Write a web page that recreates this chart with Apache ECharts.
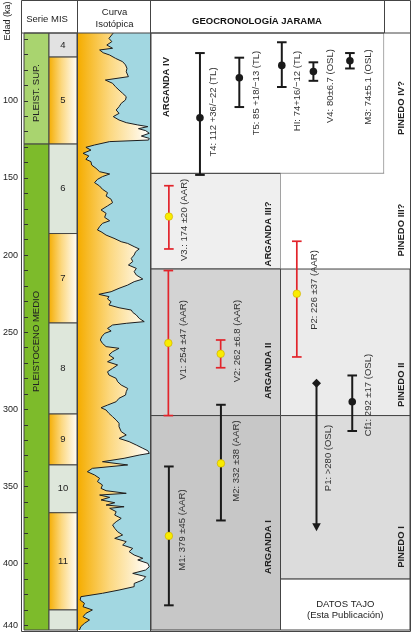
<!DOCTYPE html>
<html>
<head>
<meta charset="utf-8">
<script src="https://cdn.jsdelivr.net/npm/echarts@6/dist/echarts.min.js"></script>
<style>
html, body { margin: 0; padding: 0; background: #fff; }
#main { width: 411px; height: 632px; }
</style>
</head>
<body>
<div id="main"></div>
<script>
// ---- datos ----
var ageMin = 56, ageMax = 443;
var ageTicks = [60, 70, 80, 90, 100, 110, 120, 130, 140, 150, 160, 170, 180, 190, 200, 210, 220, 230, 240, 250,
    260, 270, 280, 290, 300, 310, 320, 330, 340, 350, 360, 370, 380, 390, 400, 410, 420, 430, 440];
var ageLabels = [100, 150, 200, 250, 300, 350, 400, 440];

// serie (epocas)
var epochNames = ['PLEIST. SUP.', 'PLEISTOCENO MEDIO'];
var epochFrom = [56, 128];
var epochTo = [128, 443];

// estadios isotopicos (MIS)
var misNames = ['4', '5', '6', '7', '8', '9', '10', '11', ''];
var misFrom = [56, 71.6, 128, 186, 244, 303, 336, 367, 430];
var misTo = [71.6, 128, 186, 244, 303, 336, 367, 430, 443];
var misWarm = [false, true, false, true, false, true, false, true, false];

// curva isotopica (edad ka / posicion relativa 0-100)
var isoAge = [56, 59.5, 61.6, 63.8, 65.9, 67.0, 68.8, 70.3, 72.4, 74.6, 76.7, 78.9, 81.1, 84.3, 86.5, 88.6, 90.8, 93.0, 95.1, 97.3,
    99.4, 101.6, 103.8, 105.9, 108.1, 110.2, 112.4, 114.1, 115.6, 116.7, 118.0, 119.3, 121.0, 122.8, 124.3, 125.4, 126.4, 128.6, 130.1, 131.9,
    134.0, 135.7, 137.9, 139.4, 141.6, 143.7, 145.9, 147.4, 149.1, 150.9, 153.0, 155.2, 157.3, 159.5, 161.7, 163.8, 166.0, 168.1, 170.7, 172.9,
    175.5, 177.7, 179.4, 181.5, 183.7,
    184.8, 187.0, 189.1, 191.3, 192.4, 194.5, 196.0, 197.8, 199.9, 202.1, 204.2, 206.4, 208.6, 210.7, 212.9, 215.5, 217.2, 219.4, 221.5, 223.7,
    225.4, 226.9, 228.4, 230.2, 232.3, 234.1, 235.6, 237.1, 238.8, 241.0, 243.1, 244.2, 245.3, 247.5, 249.2, 250.7, 252.9, 255.0, 257.2, 259.3,
    260.4, 262.6, 264.7, 266.9, 269.1, 271.2, 273.4, 275.6, 277.7, 279.9, 282.0, 284.2, 286.4, 288.5, 290.7, 292.8, 295.0, 297.2, 298.9, 300.4,
    302.6, 304.7, 306.9, 309.0,
    311.2, 314.4, 316.6, 318.8, 320.9, 323.1, 325.2, 326.8, 328.5, 329.6, 331.7, 333.9, 336.0, 338.2, 340.4, 342.5, 344.7, 346.8, 349.0, 351.2,
    352.7, 354.4, 355.5, 357.0, 358.7, 360.5, 362.0, 363.1, 364.1, 366.3, 368.5, 370.6, 372.8, 374.9, 377.1, 379.3, 381.4, 383.6, 385.7, 387.9,
    390.1, 392.2, 394.4, 396.5, 397.6, 399.8, 402.0, 404.1, 406.3, 408.4, 410.6, 412.8, 414.9, 417.1, 419.2, 421.4, 423.6, 425.7, 427.9, 430.0,
    432.2, 434.4, 436.5, 438.7, 440.8, 443];
var isoValue = [49, 43, 47, 40, 48, 30, 35, 44, 52, 62, 66, 68, 67, 70, 38, 48, 52, 57, 62, 67,
    66, 60, 57, 53, 57, 49, 57, 67, 83, 97, 84, 94, 99, 88, 99, 98, 44, 23, 11, 18,
    7, 15, 11, 18, 19, 25, 30, 44, 34, 27, 23, 30, 34, 41, 39, 46, 48, 41, 32, 39,
    37, 44, 34, 30, 27,
    32, 39, 50, 60, 69, 78, 85, 80, 78, 74, 76, 70, 81, 78, 81, 90, 78, 69, 57, 46,
    29, 43, 41, 46, 43, 57, 74, 76, 81, 85, 92, 67, 48, 41, 46, 37, 33, 31, 34, 39,
    57, 48, 43, 50, 41, 55, 48, 41, 43, 53, 55, 60, 69, 67, 66, 57, 53, 41, 32, 39,
    43, 48, 53, 57,
    57, 60, 67, 57, 71, 81, 90, 97, 99, 85, 64, 34, 69, 20, 13, 23, 30, 27, 34, 32,
    39, 67, 30, 44, 32, 51, 39, 64, 44, 53, 51, 60, 53, 48, 51, 55, 62, 51, 67, 62,
    76, 71, 78, 90, 83, 97, 99, 94, 76, 94, 90, 78, 78, 57, 34, 4, 3, 9, 7, 20,
    11, 7, 16, 9, 4, 2];

// unidades (terrazas)
var unitNames = ['ARGANDA IV', 'PINEDO IV?', 'ARGANDA III?', 'PINEDO III?', 'ARGANDA II', 'PINEDO II',
    'ARGANDA I', 'PINEDO I', 'DATOS TAJO\n(Esta Publicación)'];
var unitFrom = [56, 56, 147, 147, 209, 209, 304, 304, 410];
var unitTo = [147, 147, 209, 209, 304, 304, 443, 410, 443];

// dataciones
var datingNames = ['T4: 112 +36/−22 (TL)', 'T5: 85 +18/−13 (TL)', 'HI: 74+16/−12 (TL)', 'V4: 80±6.7 (OSL)',
    'M3: 74±5.1 (OSL)', 'V3.: 174 ±20 (AAR)', 'P2: 226 ±37 (AAR)', 'V1: 254 ±47 (AAR)', 'V2: 262 ±6.8 (AAR)',
    'P1: >280 (OSL)', 'Cf1: 292 ±17 (OSL)', 'M2: 332 ±38 (AAR)', 'M1: 379 ±45 (AAR)'];
var datingAge = [111, 85, 77, 81, 74, 175, 225, 257, 264, 283, 295, 335, 382];
var datingLow = [69, 72, 62, 75, 69, 155, 191, 210, 255, 283, 278, 297, 337];
var datingHigh = [148, 104, 91, 87, 79, 196, 266, 304, 273, 379, 314, 372, 427];
var datingMethod = ['TL', 'TL', 'TL', 'OSL', 'OSL', 'AAR', 'AAR', 'AAR', 'AAR', 'OSL', 'OSL', 'AAR', 'AAR'];

// ---- maquetacion / estilos ----
var epochColors = ['#a9d46f', '#7dbb2b'];
var epochLabelAge = [95, 256];
var unitLane = [[0, 90], [90, 100], [0, 50], [50, 100], [0, 50], [50, 100], [0, 50], [50, 100], [50, 100]];
var unitFill = ['#ffffff', '#ffffff', '#efefef', '#ffffff', '#d3d3d3', '#ebebeb', '#c7c7c7', '#dcdcdc', '#ffffff'];
var unitBorder = [true, false, true, false, true, true, true, true, true];
var unitLabelLane = [6, 96.5, 45.3, 96.5, 45.3, 96.5, 45.3, 96.5, 75];
var unitLabelAge = [91, 104.6, 186.3, 183.7, 275, 284, 389.2, 389.2, 430];
var datingLane = [18.9, 34.1, 50.5, 62.7, 76.8, 6.9, 56.3, 6.7, 26.9, 63.9, 77.7, 27.0, 6.9];
var datingLabelLane = [23.9, 40.5, 56.6, 69.1, 83.8, 12.9, 62.9, 12.4, 33.3, 68.3, 83.8, 32.8, 12.2];
var datingLabelAge = [107.2, 94.9, 93.6, 90.4, 91, 177.2, 222.6, 255, 255.7, 331.5, 290.7, 333.5, 378.2];
var datingRed = [false, false, false, false, false, true, true, true, true, false, false, false, false];

var FONT = '"Liberation Sans", Arial, sans-serif';
var INK = '#444';
var warmFill = {
    type: 'linear', x: 0, y: 0, x2: 1, y2: 0,
    colorStops: [{ offset: 0, color: '#f5ad00' }, { offset: 0.45, color: '#fcd880' }, { offset: 1, color: '#ffffff' }]
};

var myChart = echarts.init(document.getElementById('main'));

function rotText(x, y, text, size, bold) {
    return {
        type: 'text', x: x, y: y, rotation: Math.PI / 2,
        style: {
            text: text, fill: '#222', fontSize: size, fontFamily: FONT,
            fontWeight: bold ? 'bold' : 'normal', align: 'center', verticalAlign: 'middle'
        }
    };
}

function ageAxis(idx, showIt) {
    return {
        type: 'value', gridIndex: idx, min: ageMin, max: ageMax, inverse: true, z: 5,
        show: showIt, splitLine: { show: false }, axisLine: { show: false },
        axisTick: { show: showIt, inside: true, length: 4, customValues: ageTicks, lineStyle: { color: '#333' } },
        axisLabel: { show: showIt, customValues: ageLabels, margin: 6, fontSize: 9, color: '#222', fontFamily: FONT }
    };
}

var grids = [
    { left: 22, top: 33, width: 27, height: 597 },
    { left: 49, top: 33, width: 28, height: 597 },
    { left: 78, top: 33, width: 72, height: 597, show: true, backgroundColor: '#a2d7e1', borderWidth: 0 },
    { left: 151, top: 33, width: 259, height: 597 }
];

var option = {
    animation: false,
    backgroundColor: '#ffffff',
    grid: grids,
    xAxis: [
        { type: 'value', gridIndex: 0, min: 0, max: 1, show: false },
        { type: 'value', gridIndex: 1, min: 0, max: 1, show: false },
        { type: 'value', gridIndex: 2, min: 0, max: 100, show: false },
        { type: 'value', gridIndex: 3, min: 0, max: 100, show: false }
    ],
    yAxis: [ageAxis(0, true), ageAxis(1, false), ageAxis(2, false), ageAxis(3, false)],
    graphic: [
        // marco y cabecera
        { type: 'rect', shape: { x: 21.5, y: 0.5, width: 389, height: 631 }, style: { fill: null, stroke: INK, lineWidth: 1 }, z: 100 },
        { type: 'line', shape: { x1: 21.5, y1: 33, x2: 410.5, y2: 33 }, style: { stroke: INK, lineWidth: 1 }, z: 100 },
        { type: 'line', shape: { x1: 77.5, y1: 0, x2: 77.5, y2: 632 }, style: { stroke: INK, lineWidth: 1 }, z: 100 },
        { type: 'line', shape: { x1: 150.5, y1: 0, x2: 150.5, y2: 632 }, style: { stroke: INK, lineWidth: 1 }, z: 100 },
        { type: 'line', shape: { x1: 384.5, y1: 0, x2: 384.5, y2: 33 }, style: { stroke: INK, lineWidth: 1 }, z: 100 },
        { type: 'text', x: 8, y: 21, rotation: Math.PI / 2, style: { text: 'Edad (ka)', fill: '#222', fontSize: 9, fontFamily: FONT, align: 'center', verticalAlign: 'middle' } },
        { type: 'text', x: 47, y: 19.5, style: { text: 'Serie MIS', fill: '#222', fontSize: 9.5, fontFamily: FONT, align: 'center', verticalAlign: 'middle' } },
        { type: 'text', x: 114.5, y: 18.5, style: { text: 'Curva\nIsotópica', fill: '#222', fontSize: 9.5, lineHeight: 11.5, fontFamily: FONT, align: 'center', verticalAlign: 'middle' } },
        { type: 'text', x: 257, y: 21.5, style: { text: 'GEOCRONOLOGÍA JARAMA', fill: '#111', fontSize: 9.5, fontWeight: 'bold', fontFamily: FONT, align: 'center', verticalAlign: 'middle' } }
    ],
    series: [
        {
            // serie
            type: 'custom', xAxisIndex: 0, yAxisIndex: 0,
            data: epochNames.map(function(n, i) { return [0, 1, epochFrom[i], epochTo[i]]; }),
            encode: { x: [0, 1], y: [2, 3] },
            renderItem: function(params, api) {
                var i = params.dataIndex;
                var a = api.coord([api.value(0), api.value(2)]);
                var b = api.coord([api.value(1), api.value(3)]);
                return {
                    type: 'group', children: [
                        { type: 'rect', shape: { x: a[0], y: a[1], width: b[0] - a[0], height: b[1] - a[1] }, style: { fill: epochColors[i], stroke: INK, lineWidth: 1 } },
                        rotText((a[0] + b[0]) / 2, api.coord([0, epochLabelAge[i]])[1], epochNames[i], 9.5, false)
                    ]
                };
            }
        },
        {
            // MIS
            type: 'custom', xAxisIndex: 1, yAxisIndex: 1,
            data: misNames.map(function(n, i) { return [0, 1, misFrom[i], misTo[i]]; }),
            encode: { x: [0, 1], y: [2, 3] },
            renderItem: function(params, api) {
                var i = params.dataIndex;
                var a = api.coord([api.value(0), api.value(2)]);
                var b = api.coord([api.value(1), api.value(3)]);
                var fill = misWarm[i] ? warmFill : (i === 0 ? '#e2e2e2' : '#dee7db');
                return {
                    type: 'group', children: [
                        { type: 'rect', shape: { x: a[0], y: a[1], width: b[0] - a[0], height: b[1] - a[1] }, style: { fill: fill, stroke: INK, lineWidth: 1 } },
                        { type: 'text', x: (a[0] + b[0]) / 2, y: (a[1] + b[1]) / 2, style: { text: misNames[i], fill: '#222', fontSize: 9.5, fontFamily: FONT, align: 'center', verticalAlign: 'middle' } }
                    ]
                };
            }
        },
        {
            // curva isotopica
            type: 'custom', xAxisIndex: 2, yAxisIndex: 2,
            data: [[0, ageMin]],
            renderItem: function(params, api) {
                var pts = isoAge.map(function(a, i) { return api.coord([isoValue[i], a]); });
                var poly = [api.coord([0, isoAge[0]])].concat(pts).concat([api.coord([0, isoAge[isoAge.length - 1]])]);
                return {
                    type: 'group', children: [
                        { type: 'polygon', shape: { points: poly }, style: { fill: warmFill } },
                        { type: 'polyline', shape: { points: pts }, style: { stroke: '#1e1e1e', lineWidth: 1, fill: null } }
                    ]
                };
            }
        },
        {
            // unidades
            type: 'custom', xAxisIndex: 3, yAxisIndex: 3,
            data: unitNames.map(function(n, i) { return [unitLane[i][0], unitLane[i][1], unitFrom[i], unitTo[i]]; }),
            encode: { x: [0, 1], y: [2, 3] },
            renderItem: function(params, api) {
                var i = params.dataIndex;
                var a = api.coord([api.value(0), api.value(2)]);
                var b = api.coord([api.value(1), api.value(3)]);
                var p = api.coord([unitLabelLane[i], unitLabelAge[i]]);
                var label;
                if (i === unitNames.length - 1) {
                    label = { type: 'text', x: p[0], y: p[1], style: { text: unitNames[i], fill: '#222', fontSize: 9.5, lineHeight: 11.7, fontFamily: FONT, align: 'center', verticalAlign: 'middle' } };
                } else {
                    label = rotText(p[0], p[1], unitNames[i], 9.5, true);
                }
                return {
                    type: 'group', children: [
                        { type: 'rect', shape: { x: a[0], y: a[1], width: b[0] - a[0], height: b[1] - a[1] },
                          style: { fill: unitFill[i], stroke: unitBorder[i] ? INK : null, lineWidth: 1 } },
                        label
                    ]
                };
            }
        },
        {
            // dataciones
            type: 'custom', xAxisIndex: 3, yAxisIndex: 3, z: 4,
            data: datingNames.map(function(n, i) { return [datingLane[i], datingAge[i], datingLow[i], datingHigh[i]]; }),
            encode: { x: 0, y: [1, 2, 3] },
            renderItem: function(params, api) {
                var i = params.dataIndex;
                var c = api.coord([api.value(0), api.value(1)]);
                var lo = api.coord([api.value(0), api.value(2)]);
                var hi = api.coord([api.value(0), api.value(3)]);
                var col = datingRed[i] ? '#e2242b' : '#1a1a1a';
                var lw = datingRed[i] ? 1.7 : 2;
                var x = c[0];
                var kids = [];
                var open = datingNames[i].indexOf('>') >= 0;
                if (open) {
                    kids.push({ type: 'line', shape: { x1: x, y1: c[1], x2: x, y2: hi[1] - 7 }, style: { stroke: col, lineWidth: lw } });
                    kids.push({ type: 'polygon', shape: { points: [[x - 4.3, hi[1] - 8], [x + 4.3, hi[1] - 8], [x, hi[1]]] }, style: { fill: col } });
                    kids.push({ type: 'polygon', shape: { points: [[x, c[1] - 4.5], [x + 4.5, c[1]], [x, c[1] + 4.5], [x - 4.5, c[1]]] }, style: { fill: col } });
                } else {
                    kids.push({ type: 'line', shape: { x1: x, y1: lo[1], x2: x, y2: hi[1] }, style: { stroke: col, lineWidth: lw } });
                    kids.push({ type: 'line', shape: { x1: x - 4.8, y1: lo[1], x2: x + 4.8, y2: lo[1] }, style: { stroke: col, lineWidth: lw } });
                    kids.push({ type: 'line', shape: { x1: x - 4.8, y1: hi[1], x2: x + 4.8, y2: hi[1] }, style: { stroke: col, lineWidth: lw } });
                    if (datingMethod[i] === 'AAR') {
                        kids.push({ type: 'circle', shape: { cx: x, cy: c[1], r: 3.8 }, style: { fill: '#f9ec00', stroke: '#c9a800', lineWidth: 0.6 } });
                    } else {
                        kids.push({ type: 'circle', shape: { cx: x, cy: c[1], r: 3.8 }, style: { fill: '#1a1a1a' } });
                    }
                }
                var p = api.coord([datingLabelLane[i], datingLabelAge[i]]);
                var t = rotText(p[0], p[1], datingNames[i], 9.5, false);
                t.style.fill = '#333';
                kids.push(t);
                return { type: 'group', children: kids };
            }
        }
    ]
};

myChart.setOption(option);
</script>
</body>
</html>
